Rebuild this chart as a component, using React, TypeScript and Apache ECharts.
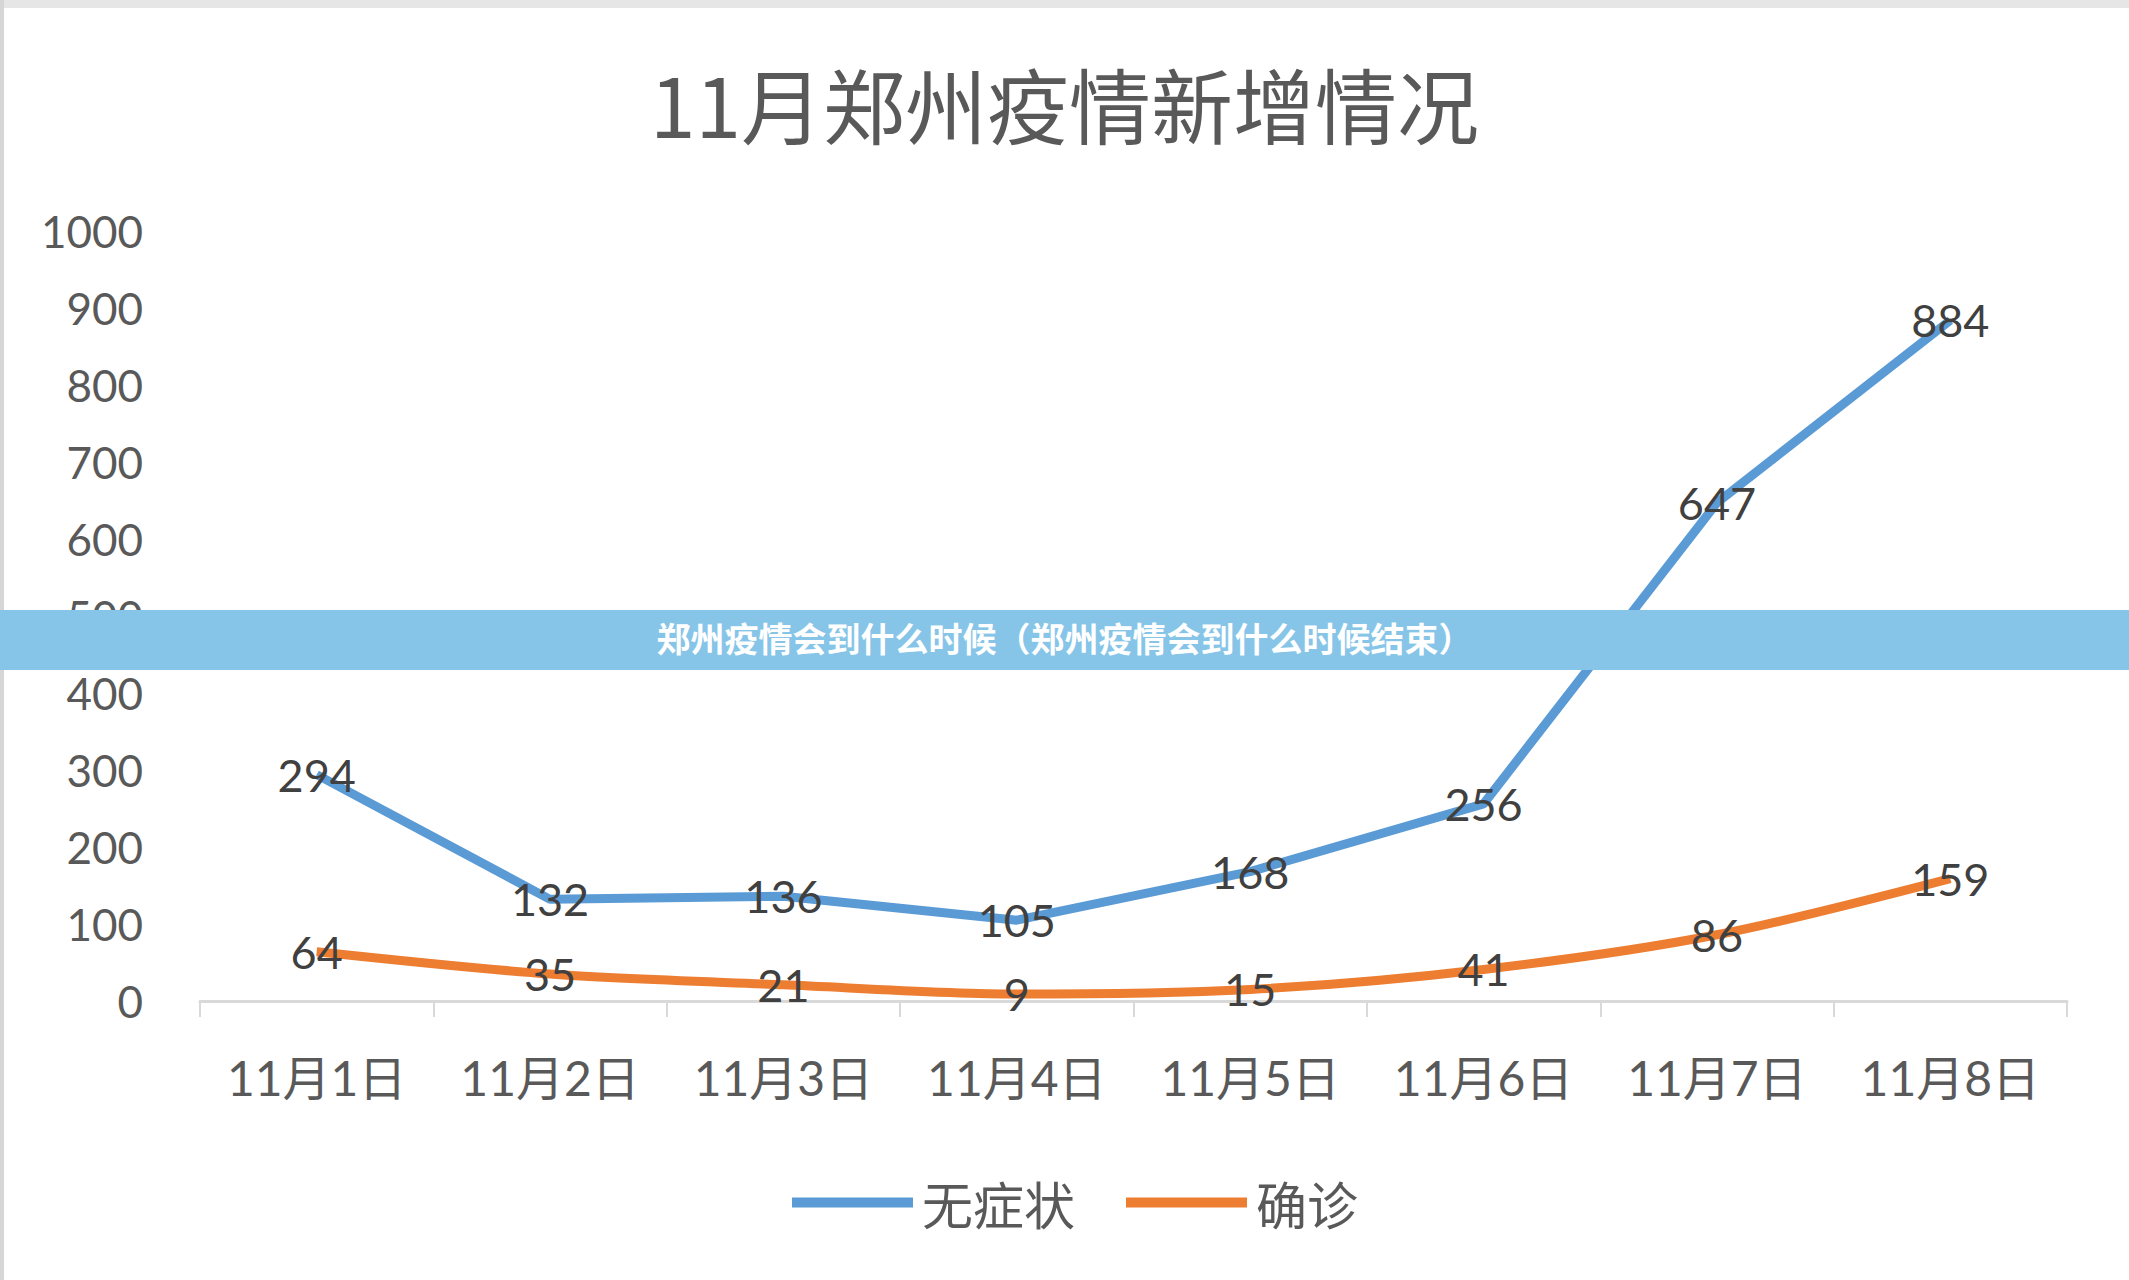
import React, { useEffect, useRef } from "react";
import * as echarts from "echarts";

const categories = ["11月1日", "11月2日", "11月3日", "11月4日", "11月5日", "11月6日", "11月7日", "11月8日"];
const asymptomatic = [294, 132, 136, 105, 168, 256, 647, 884];
const confirmed = [64, 35, 21, 9, 15, 41, 86, 159];
const seriesNames = ["无症状", "确诊"];
const seriesColors = ["#5B9BD5", "#ED7D31"];
const titleText = "11月郑州疫情新增情况";
const bannerText = "郑州疫情会到什么时候（郑州疫情会到什么时候结束）";

const W = 2129;
const H = 1280;
const NUM_FONT = "Lato, 'Noto Sans CJK SC', sans-serif";
const CJK_FONT = "'Noto Sans CJK SC', Lato, sans-serif";

export default function App() {
  const ref = useRef<HTMLDivElement>(null);
  useEffect(() => {
    document.body.style.margin = "0";
    if (!ref.current) return;
    const chart = echarts.init(ref.current, undefined, { renderer: "svg" });
    const label = {
      show: true,
      position: "inside",
      fontFamily: NUM_FONT,
      fontSize: 45,
      color: "#404040",
    };
    chart.setOption({
      animation: false,
      backgroundColor: "#ffffff",
      title: {
        text: titleText,
        left: "center",
        top: 56,
        textStyle: { fontFamily: CJK_FONT, fontSize: 82, fontWeight: "normal", color: "#595959" },
      },
      legend: {
        data: seriesNames.map((n, i) => ({ name: n, itemStyle: { color: seriesColors[i], opacity: 1 } })),
        left: 787,
        top: 1172,
        icon: "rect",
        itemWidth: 121,
        itemHeight: 10,
        itemGap: 51,
        textStyle: { fontFamily: CJK_FONT, fontSize: 51, color: "#595959", padding: [0, 0, 0, 4] },
      },
      grid: { left: 200, right: 62, top: 231, bottom: 279, containLabel: false },
      xAxis: {
        type: "category",
        data: categories,
        boundaryGap: true,
        axisLine: { show: true, lineStyle: { color: "#D9D9D9", width: 3 } },
        axisTick: { show: true, length: 16, interval: 0, lineStyle: { color: "#D9D9D9", width: 2 } },
        axisLabel: { interval: 0, fontFamily: NUM_FONT, fontSize: 48, color: "#595959", margin: 52 },
        splitLine: { show: false },
      },
      yAxis: {
        type: "value",
        min: 0,
        max: 1000,
        interval: 100,
        axisLine: { show: false },
        axisTick: { show: false },
        splitLine: { show: false },
        axisLabel: {
          fontFamily: NUM_FONT,
          fontSize: 44,
          color: "#595959",
          margin: 57,
          formatter: (v: number) => String(v),
        },
      },
      series: [
        {
          name: seriesNames[0],
          type: "line",
          data: asymptomatic,
          symbol: "circle",
          symbolSize: 0,
          showSymbol: true,
          lineStyle: { color: seriesColors[0], width: 9 },
          itemStyle: { color: seriesColors[0] },
          label,
          z: 3,
        },
        {
          name: seriesNames[1],
          type: "line",
          data: confirmed,
          symbol: "circle",
          symbolSize: 0,
          showSymbol: true,
          smooth: 0.3,
          lineStyle: { color: seriesColors[1], width: 9 },
          itemStyle: { color: seriesColors[1] },
          label,
          z: 3,
        },
      ],
      graphic: [
        { type: "rect", left: 0, top: 0, shape: { width: W, height: 8 }, style: { fill: "#E6E6E6" }, z: 10 },
        { type: "rect", left: 0, top: 0, shape: { width: 4, height: H }, style: { fill: "#D6D6D6" }, z: 10 },
        { type: "rect", left: 0, top: 610, shape: { width: W, height: 60 }, style: { fill: "#86C5E8" }, z: 100 },
        {
          type: "text",
          left: "center",
          top: 620,
          style: {
            text: bannerText,
            fill: "#ffffff",
            font: "bold 34px 'Noto Sans CJK SC', sans-serif",
          },
          z: 101,
        },
      ],
    });
    return () => chart.dispose();
  }, []);
  return <div ref={ref} style={{ position: "fixed", left: 0, top: 0, width: W, height: H }} />;
}
